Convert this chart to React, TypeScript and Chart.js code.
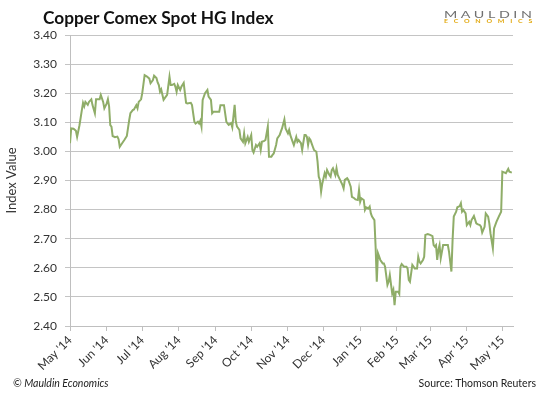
import React, { useEffect, useRef } from "react";
import { Chart, registerables } from "chart.js";

Chart.register(...registerables);

// Days since 1 May 2014
const days = [0,1,3,5,6,8,10,11,12,13,15,16,18,19,21,22,25,26,28,29,31,32,33,34,35,36,38,40,41,42,44,46,48,50,51,53,54,56,57,58,60,61,63,65,67,68,70,71,73,74,75,76,77,79,80,82,84,85,86,88,89,90,91,93,94,96,97,98,99,102,103,105,106,108,109,110,111,112,114,116,117,119,120,121,123,126,127,129,130,132,133,
134,136,137,139,140,141,143,144,146,147,148,150,151,153,154,155,157,158,160,161,162,164,165,167,168,170,171,172,174,175,177,178,179,181,182,184,185,186,188,189,191,192,193,195,196,198,199,200,201,202,203,205,206,208,209,210,211,212,213,215,216,217,219,220,221,222,224,225,226,228,230,231,232,234,235,237,
238,240,241,243,244,245,246,248,249,250,252,253,254,255,257,258,259,260,262,264,265,266,268,269,270,272,273,274,275,277,278,279,280,282,284,285,286,287,289,290,291,293,294,295,296,298,299,300,302,304,306,307,308,309,310,311,312,313,315,317,319,320,322,323,324,326,327,329,330,331,332,334,335,337,338,339,341,343,344,
346,347,348,350,351,353,354,355,357,358,360,362,364,365,367,368,370,371,373];

const values = [3.028,3.079,3.078,3.071,3.05,3.09,3.142,3.167,3.155,3.17,3.16,3.17,3.179,3.159,3.131,3.179,3.179,3.194,3.17,3.148,3.165,3.179,3.155,3.09,3.085,3.053,3.049,3.051,3.042,3.016,3.028,3.04,3.053,3.108,3.131,3.142,3.144,3.159,3.148,3.17,3.179,3.2,3.262,3.257,3.25,3.234,3.245,3.26,3.252,3.237,3.228,3.205,3.213,3.177,3.183,3.194,3.257,3.228,3.228,3.232,3.222,3.205,3.228,3.211,3.222,3.235,3.2,3.167,3.165,3.167,3.159,3.102,3.096,3.102,3.096,3.105,3.085,3.177,3.2,3.211,3.188,3.177,3.131,3.136,3.136,3.136,3.159,3.159,3.159,3.102,3.096,
3.091,3.097,3.083,3.16,3.102,3.085,3.074,3.045,3.033,3.062,3.028,3.05,3.033,3.056,3.005,2.996,3.022,3.016,3.028,3.005,3.033,3.036,3.039,3.085,2.982,2.982,2.988,2.993,3.022,3.045,3.056,3.068,3.079,3.11,3.079,3.062,3.074,3.056,3.033,3.022,3.05,3.033,3.039,3.028,3.005,3.056,3.056,3.05,3.022,3.045,3.039,3.016,3.005,2.999,2.965,2.913,2.902,2.862,2.89,2.925,2.913,2.936,2.919,2.913,2.936,2.942,2.919,2.942,2.919,2.902,2.885,2.873,2.902,2.908,2.902,2.879,
2.844,2.839,2.835,2.833,2.867,2.827,2.839,2.833,2.799,2.808,2.804,2.81,2.787,2.776,2.764,2.673,2.552,2.65,2.627,2.615,2.615,2.604,2.541,2.552,2.575,2.512,2.524,2.472,2.518,2.518,2.51,2.604,2.613,2.604,2.604,2.598,2.558,2.552,2.61,2.604,2.598,2.598,2.638,2.621,2.615,2.627,2.638,2.713,2.716,2.713,2.709,2.678,2.673,2.678,2.627,2.661,2.678,2.633,2.678,2.678,2.678,2.655,2.587,2.696,2.776,2.793,2.808,2.812,2.822,2.793,2.799,2.787,2.747,2.758,2.747,2.764,2.778,2.753,2.75,
2.747,2.741,2.721,2.741,2.787,2.776,2.753,2.718,2.667,2.735,2.758,2.776,2.793,2.93,2.927,2.925,2.94,2.93,2.927];

const monthTickDays = [0, 31, 61, 92, 123, 153, 184, 214, 245, 276, 304, 335, 365];
const monthTickLabels = ["May '14", "Jun '14", "Jul '14", "Aug '14", "Sep '14", "Oct '14", "Nov '14", "Dec '14", "Jan '15", "Feb '15", "Mar '15", "Apr '15", "May '15"];

const FONT = "Lato, 'Open Sans', sans-serif";

export default function App() {
  const ref = useRef<HTMLCanvasElement | null>(null);

  useEffect(() => {
    if (!ref.current) return;
    const points = days.map((d, i) => ({ x: d, y: values[i] }));
    const chart = new Chart(ref.current, {
      type: "line",
      data: {
        datasets: [
          {
            data: points,
            borderColor: "#8fad68",
            borderWidth: 2,
            pointRadius: 0,
            tension: 0,
            fill: false,
          },
        ],
      },
      options: {
        animation: false,
        responsive: false,
        maintainAspectRatio: false,
        layout: { padding: { left: 0, right: 37, top: 35, bottom: 0 } },
        plugins: { legend: { display: false }, tooltip: { enabled: false } },
        scales: {
          x: {
            type: "linear",
            min: 0,
            max: 374,
            afterBuildTicks: (s: any) => {
              s.ticks = monthTickDays.map((v) => ({ value: v }));
            },
            afterFit: (s: any) => {
              s.height = 69;
            },
            ticks: {
              autoSkip: false,
              minRotation: 45,
              maxRotation: 45,
              padding: 2,
              color: "#333333",
              font: { family: FONT, size: 12 },
              callback: (v: any) => {
                const i = monthTickDays.indexOf(Number(v));
                return i >= 0 ? monthTickLabels[i] : "";
              },
            },
            grid: { drawOnChartArea: false, drawTicks: true, tickLength: 5, color: "#bfbfbf" },
            border: { display: true, color: "#bfbfbf" },
          },
          y: {
            min: 2.4,
            max: 3.4,
            afterFit: (s: any) => {
              s.width = 70;
            },
            ticks: {
              stepSize: 0.1,
              padding: 8,
              color: "#333333",
              font: { family: FONT, size: 12 },
              callback: (v: any) => Number(v).toFixed(2),
            },
            grid: { color: "#c4c4c4", tickLength: 5, lineWidth: 1 },
            border: { display: true, color: "#bfbfbf" },
            title: {
              display: true,
              text: "Index Value",
              color: "#333333",
              font: { family: FONT, size: 13 },
            },
          },
        },
      },
    });
    return () => chart.destroy();
  }, []);

  return (
    <div style={{ position: "fixed", left: 0, top: 0, width: 550, height: 395, background: "#ffffff", overflow: "hidden" }}>
      <canvas ref={ref} width={550} height={395} style={{ position: "absolute", left: 0, top: 0, display: "block" }} />
      <div style={{ position: "absolute", left: 43, top: 7, fontFamily: FONT, fontWeight: 700, fontSize: 17.3, color: "#111111", whiteSpace: "nowrap" }}>
        Copper Comex Spot HG Index
      </div>
      <div style={{ position: "absolute", left: 444, top: 7.5, fontFamily: FONT, fontSize: 10, letterSpacing: 2.5, color: "#707070", whiteSpace: "nowrap", lineHeight: "12px", transform: "scaleX(1.43)", transformOrigin: "left top" }}>
        MAULDIN
      </div>
      <div style={{ position: "absolute", left: 444, top: 18, fontFamily: FONT, fontSize: 5, fontWeight: 700, letterSpacing: 4.1, color: "#e2a910", whiteSpace: "nowrap", lineHeight: "6px", transform: "scaleX(1.4)", transformOrigin: "left top" }}>
        ECONOMICS
      </div>
      <div style={{ position: "absolute", left: 13, top: 377, fontFamily: FONT, fontStyle: "italic", fontSize: 10.5, color: "#222222", whiteSpace: "nowrap" }}>
        © Mauldin Economics
      </div>
      <div style={{ position: "absolute", right: 14, top: 377, fontFamily: FONT, fontSize: 10.5, color: "#222222", whiteSpace: "nowrap", textAlign: "right" }}>
        Source: Thomson Reuters
      </div>
    </div>
  );
}
